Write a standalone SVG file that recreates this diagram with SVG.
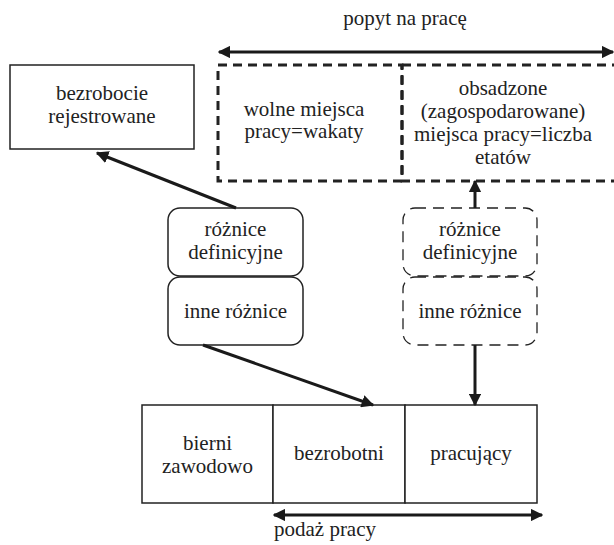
<svg xmlns="http://www.w3.org/2000/svg" width="614" height="545" viewBox="0 0 614 545">
<defs>
<marker id="ah" viewBox="0 0 10 10" refX="9" refY="5" markerWidth="4.2" markerHeight="4.2" orient="auto-start-reverse" markerUnits="strokeWidth">
<path d="M0,0 L10,5 L0,10 z" fill="#1a1a1a"/>
</marker>
<style>
.solid{fill:#fff;stroke:#222;stroke-width:1.5}
.thickdash{fill:none;stroke:#222;stroke-width:3;stroke-dasharray:9,6}
.thindash{fill:none;stroke:#222;stroke-width:1.3;stroke-dasharray:11,7}
.conn{stroke:#1a1a1a;stroke-width:3;fill:none}
</style>
</defs>
<rect width="614" height="545" fill="#fff"/>
<g font-family="'Liberation Serif', 'Times New Roman', Times, serif" font-size="21" fill="#222" text-anchor="middle">
<g id="popyt">
<text x="405" y="25">popyt na pracę</text>
</g>
<g id="wakaty">
<rect class="thickdash" x="218" y="65" width="184" height="116"/>
<text x="304" y="116">wolne miejsca</text>
<text x="304" y="138">pracy=wakaty</text>
</g>
<g id="obsadzone">
<path class="thickdash" d="M402,65 H620 M620,181 H402 V65"/>
<text x="503" y="95">obsadzone</text>
<text x="503" y="118">(zagospodarowane)</text>
<text x="503" y="141">miejsca pracy=liczba</text>
<text x="503" y="164">etatów</text>
</g>
<g id="bezrobocie-rej">
<rect class="solid" x="10" y="65" width="184" height="84"/>
<text x="102" y="100">bezrobocie</text>
<text x="102" y="123">rejestrowane</text>
</g>
<g id="roznice-def-l">
<rect class="solid" x="168" y="208" width="135" height="68" rx="12"/>
<text x="235.5" y="236">różnice</text>
<text x="235.5" y="259">definicyjne</text>
</g>
<g id="inne-l">
<rect class="solid" x="168" y="277" width="135" height="68" rx="12"/>
<text x="235.5" y="318">inne różnice</text>
</g>
<g id="roznice-def-r">
<rect class="thindash" x="403" y="208" width="134" height="68" rx="12"/>
<text x="470" y="236">różnice</text>
<text x="470" y="259">definicyjne</text>
</g>
<g id="inne-r">
<rect class="thindash" x="403" y="277" width="134" height="68" rx="12"/>
<text x="470" y="318">inne różnice</text>
</g>
<g id="bierni">
<rect class="solid" x="142" y="405" width="131" height="98"/>
<text x="207.5" y="450">bierni</text>
<text x="207.5" y="473">zawodowo</text>
</g>
<g id="bezrobotni">
<rect class="solid" x="273" y="405" width="132" height="98"/>
<text x="339" y="460">bezrobotni</text>
</g>
<g id="pracujacy">
<rect class="solid" x="405" y="405" width="132" height="98"/>
<text x="471" y="460">pracujący</text>
</g>
<g id="podaz">
<text x="325" y="536">podaż pracy</text>
</g>
</g>
<g id="connectors">
<line class="conn" x1="219" y1="52" x2="613" y2="52" marker-start="url(#ah)" marker-end="url(#ah)"/>
<line class="conn" x1="236" y1="208" x2="97" y2="153" marker-end="url(#ah)"/>
<line class="conn" x1="203" y1="345" x2="373" y2="405" marker-end="url(#ah)"/>
<line class="conn" x1="475" y1="208" x2="475" y2="181" marker-end="url(#ah)"/>
<line class="conn" x1="475" y1="345" x2="475" y2="405" marker-end="url(#ah)"/>
<line class="conn" x1="274" y1="515" x2="542" y2="515" marker-start="url(#ah)" marker-end="url(#ah)"/>
</g>
</svg>
